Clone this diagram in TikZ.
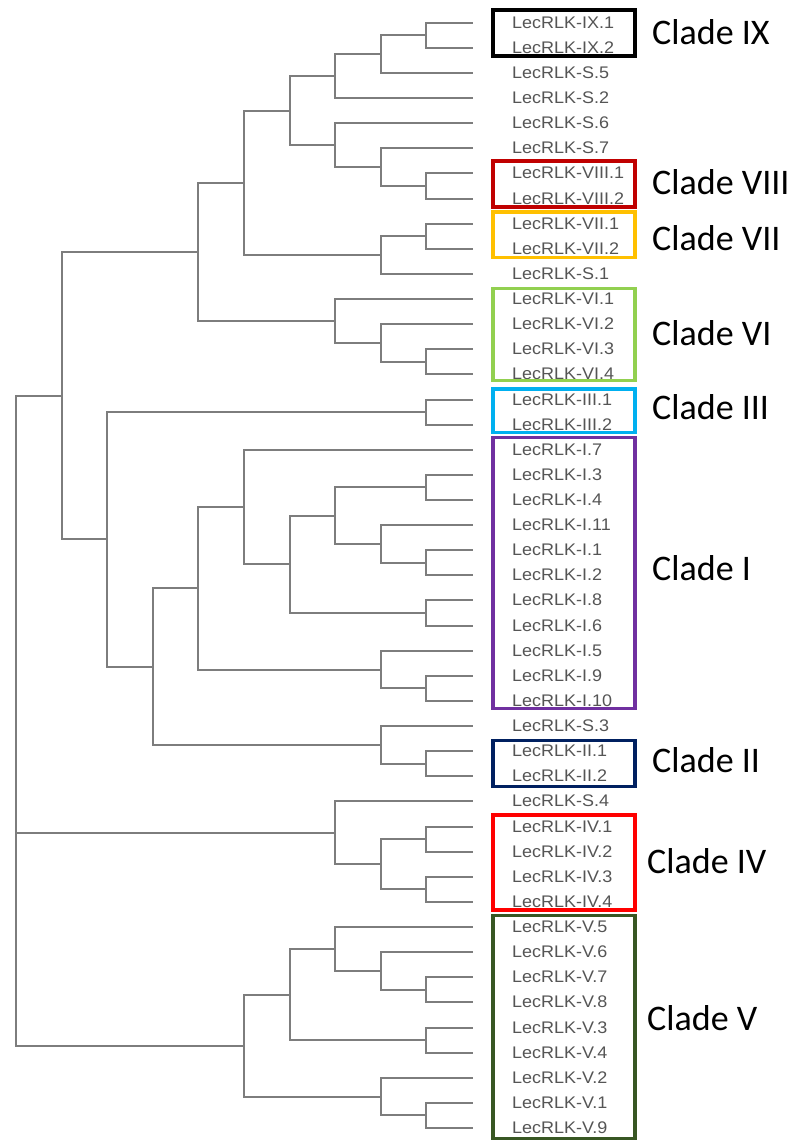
\documentclass[tikz,border=0pt]{standalone}
\usepackage{fontspec}
\usepackage{graphicx}
\usetikzlibrary{calc}
\newfontfamily\leaffont{Liberation Sans}
\newfontfamily\cladefont{Carlito}
\definecolor{branch}{RGB}{125,125,125}
\definecolor{leaftext}{RGB}{85,85,85}
\definecolor{cIX}{RGB}{0,0,0}
\definecolor{cVIII}{RGB}{192,0,0}
\definecolor{cVII}{RGB}{255,192,0}
\definecolor{cVI}{RGB}{146,208,80}
\definecolor{cIII}{RGB}{0,176,240}
\definecolor{cI}{RGB}{112,48,160}
\definecolor{cII}{RGB}{0,32,96}
\definecolor{cIV}{RGB}{255,0,0}
\definecolor{cV}{RGB}{56,87,35}
% internal node: name, depth level, first child, second child
\newcommand\joinnode[4]{%
  \path ($(#3)!0.5!(#4)$) coordinate (#1-mid);
  \coordinate (#1) at ({16+45.6*#2},0 |- #1-mid);
  \draw[branchline] (#1) |- (#3);
  \draw[branchline] (#1) |- (#4);
}
\begin{document}
\begin{tikzpicture}[x=1pt,y=-1pt,
  branchline/.style={draw=branch,line width=2pt,line cap=rect,line join=miter},
  leaflabel/.style={anchor=base west,inner sep=0pt,text=leaftext,
    font=\leaffont\fontsize{16.8}{18}\selectfont},
  cladelabel/.style={anchor=base west,inner sep=0pt,text=black,
    font=\cladefont\fontsize{36}{40}\selectfont},
  cladebox/.style={draw=#1,line width=3.5pt}]
\useasboundingbox (0,0) rectangle (799,1141);

% leaves
\foreach \nm [count=\i] in {IX.1,IX.2,S.5,S.2,S.6,S.7,VIII.1,VIII.2,VII.1,VII.2,S.1,
  VI.1,VI.2,VI.3,VI.4,III.1,III.2,I.7,I.3,I.4,I.11,I.1,I.2,I.8,I.6,I.5,I.9,I.10,
  S.3,II.1,II.2,S.4,IV.1,IV.2,IV.3,IV.4,V.5,V.6,V.7,V.8,V.3,V.4,V.2,V.1,V.9}{
  \coordinate (lf\i) at (472,{22.7+(\i-1)*25.12});
  \node[leaflabel] (tx\i) at (512,{28.2+(\i-1)*25.12}) {\scalebox{1.07}[1]{LecRLK-\nm}};
}

% upper group
\joinnode{a1}{9}{lf1}{lf2}
\joinnode{a2}{8}{a1}{lf3}
\joinnode{a3}{7}{a2}{lf4}
\joinnode{b1}{9}{lf7}{lf8}
\joinnode{b2}{8}{lf6}{b1}
\joinnode{b3}{7}{lf5}{b2}
\joinnode{a4}{6}{a3}{b3}
\joinnode{c1}{9}{lf9}{lf10}
\joinnode{c2}{8}{c1}{lf11}
\joinnode{a5}{5}{a4}{c2}
\joinnode{d1}{9}{lf14}{lf15}
\joinnode{d2}{8}{lf13}{d1}
\joinnode{d3}{7}{lf12}{d2}
\joinnode{a6}{4}{a5}{d3}
% clades III, I, II
\joinnode{e1}{9}{lf16}{lf17}
\joinnode{f1}{9}{lf19}{lf20}
\joinnode{f2}{9}{lf22}{lf23}
\joinnode{f3}{8}{lf21}{f2}
\joinnode{f4}{7}{f1}{f3}
\joinnode{f5}{9}{lf24}{lf25}
\joinnode{f6}{6}{f4}{f5}
\joinnode{f7}{5}{lf18}{f6}
\joinnode{f8}{9}{lf27}{lf28}
\joinnode{f9}{8}{lf26}{f8}
\joinnode{f10}{4}{f7}{f9}
\joinnode{g1}{9}{lf30}{lf31}
\joinnode{g2}{8}{lf29}{g1}
\joinnode{h1}{3}{f10}{g2}
\joinnode{h2}{2}{e1}{h1}
\joinnode{top}{1}{a6}{h2}
% clade IV
\joinnode{i1}{9}{lf33}{lf34}
\joinnode{i2}{9}{lf35}{lf36}
\joinnode{i3}{8}{i1}{i2}
\joinnode{i4}{7}{lf32}{i3}
% clade V
\joinnode{j1}{9}{lf39}{lf40}
\joinnode{j2}{8}{lf38}{j1}
\joinnode{j3}{7}{lf37}{j2}
\joinnode{j4}{9}{lf41}{lf42}
\joinnode{j5}{6}{j3}{j4}
\joinnode{j6}{9}{lf44}{lf45}
\joinnode{j7}{8}{lf43}{j6}
\joinnode{j8}{5}{j5}{j7}
% root with three branches
\joinnode{root}{0}{top}{j8}
\draw[branchline] (root) |- (i4);

% clade boxes
\draw[cladebox=cIX,line width=4pt] (492.8,10) rectangle (635.2,55.8);
\draw[cladebox=cVIII] (492.8,160.8) rectangle (635.2,207.2);
\draw[cladebox=cVII] (492.8,212) rectangle (635.2,257.5);
\draw[cladebox=cVI] (492.8,288.3) rectangle (635.2,380.3);
\draw[cladebox=cIII] (492.8,388.8) rectangle (635.2,432.3);
\draw[cladebox=cI] (492.8,437.7) rectangle (635.2,708.3);
\draw[cladebox=cII] (492.8,740.7) rectangle (635.2,786.6);
\draw[cladebox=cIV,line width=4pt] (492.8,814.5) rectangle (635.2,909.5);
\draw[cladebox=cV] (492.8,915.5) rectangle (635.2,1138.5);

% clade names
\node[cladelabel] (clIX) at (652,44) {Clade IX};
\node[cladelabel] (clVIII) at (652,194) {Clade VIII};
\node[cladelabel] (clVII) at (652,250) {Clade VII};
\node[cladelabel] (clVI) at (652,345) {Clade VI};
\node[cladelabel] (clIII) at (652,419) {Clade III};
\node[cladelabel] (clI) at (652,580) {Clade I};
\node[cladelabel] (clII) at (652,772) {Clade II};
\node[cladelabel] (clIV) at (647,873) {Clade IV};
\node[cladelabel] (clV) at (647,1030) {Clade V};
\end{tikzpicture}
\end{document}
